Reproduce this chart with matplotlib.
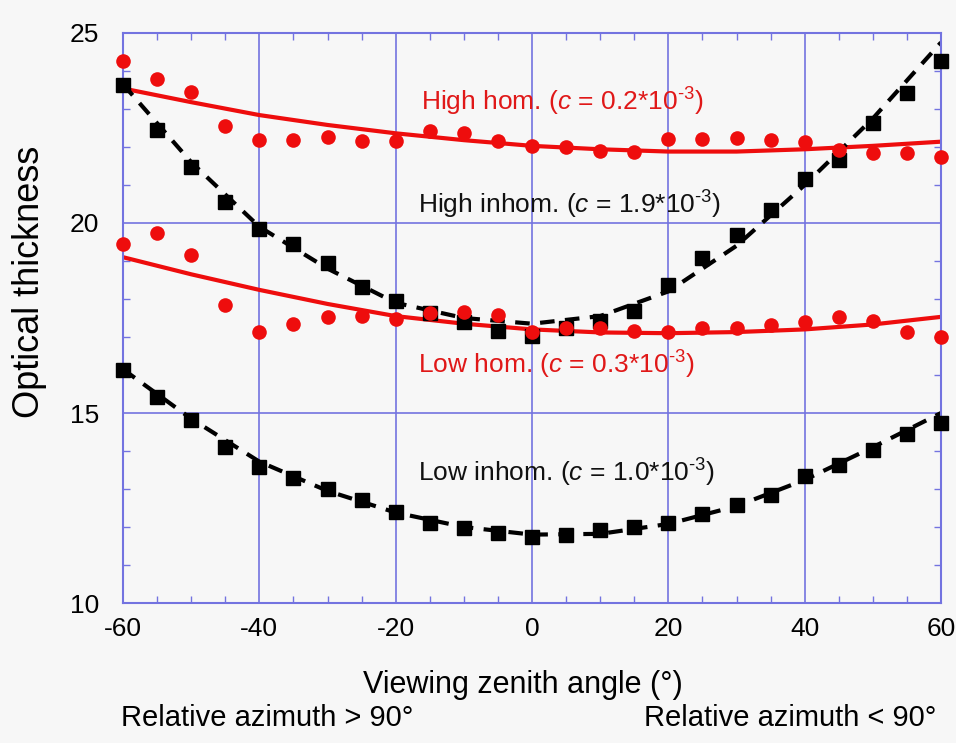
import numpy as np
import matplotlib
matplotlib.use("Agg")
import matplotlib.pyplot as plt
from matplotlib.ticker import MultipleLocator

plt.rcParams['font.family'] = ['Liberation Sans', 'DejaVu Sans']
plt.rcParams['mathtext.fontset'] = 'custom'
plt.rcParams['mathtext.rm'] = 'Liberation Sans'
plt.rcParams['mathtext.it'] = 'Liberation Sans:italic'
plt.rcParams['axes.unicode_minus'] = False

# angles des points (tous les 5 degres)
angles = np.arange(-60, 61, 5)

high_hom = [24.27, 23.79, 23.46, 22.56, 22.18, 22.18, 22.26, 22.15, 22.15, 22.43,
            22.36, 22.15, 22.03, 22.01, 21.89, 21.88, 22.22, 22.22, 22.24, 22.18,
            22.14, 21.92, 21.83, 21.83, 21.73]
high_inhom = [23.63, 22.45, 21.48, 20.56, 19.83, 19.45, 18.94, 18.32, 17.95, 17.62,
              17.40, 17.17, 17.02, 17.25, 17.42, 17.69, 18.37, 19.07, 19.68, 20.34,
              21.15, 21.66, 22.62, 23.41, 24.25]
low_hom = [19.45, 19.73, 19.16, 17.84, 17.12, 17.33, 17.53, 17.55, 17.47, 17.62,
           17.65, 17.58, 17.14, 17.23, 17.23, 17.17, 17.14, 17.25, 17.25, 17.32,
           17.40, 17.53, 17.43, 17.12, 16.99]
low_inhom = [16.13, 15.43, 14.82, 14.11, 13.59, 13.28, 12.99, 12.71, 12.40, 12.10,
             11.97, 11.83, 11.75, 11.79, 11.92, 12.01, 12.11, 12.34, 12.58, 12.84,
             13.34, 13.63, 14.03, 14.45, 14.73]

# courbes d'ajustement (lues tous les 10 degres)
angles_fit = np.arange(-60, 61, 10)
fit_high_hom = [23.54, 23.18, 22.84, 22.58, 22.36, 22.18, 22.03, 21.94, 21.88, 21.88,
                21.94, 22.03, 22.14]
fit_high_inhom = [23.65, 21.6, 19.9, 18.8, 17.9, 17.5, 17.35, 17.55, 18.2, 19.4,
                  21.0, 22.75, 24.75]
fit_low_hom = [19.10, 18.65, 18.24, 17.87, 17.55, 17.35, 17.2, 17.12, 17.10, 17.13,
               17.2, 17.33, 17.53]
fit_low_inhom = [16.15, 14.85, 13.72, 12.95, 12.38, 12.0, 11.8, 11.82, 12.08, 12.55,
                 13.24, 14.1, 15.0]

rouge = '#ee0d0d'
bleu = '#7373e0'
fond = '#f7f7f7'

fig = plt.figure(figsize=(9.56, 7.43), dpi=100, facecolor=fond)
ax = fig.add_axes([0.1287, 0.1884, 0.8556, 0.7672], facecolor=fond)

# lignes d'ajustement
ax.plot(angles_fit, fit_high_hom, color=rouge, lw=3, zorder=2)
ax.plot(angles_fit, fit_low_hom, color=rouge, lw=3, zorder=2)
ax.plot(angles_fit, fit_high_inhom, color='black', lw=3, ls=(0, (3.5, 2.5)), zorder=2)
ax.plot(angles_fit, fit_low_inhom, color='black', lw=3, ls=(0, (3.5, 2.5)), zorder=2)

# points
ax.plot(angles, high_inhom, 's', color='black', ms=9.5, zorder=3, clip_on=False)
ax.plot(angles, low_inhom, 's', color='black', ms=9.5, zorder=3, clip_on=False)
ax.plot(angles, high_hom, 'o', color=rouge, ms=10.5, mec='none', zorder=4, clip_on=False)
ax.plot(angles, low_hom, 'o', color=rouge, ms=10.5, mec='none', zorder=4, clip_on=False)

ax.set_xlim(-60, 60)
ax.set_ylim(10, 25)
ax.xaxis.set_major_locator(MultipleLocator(20))
ax.xaxis.set_minor_locator(MultipleLocator(5))
ax.yaxis.set_major_locator(MultipleLocator(5))
ax.yaxis.set_minor_locator(MultipleLocator(1))
ax.grid(True, which='major', color=bleu, lw=1.2, zorder=1)
for s in ax.spines.values():
    s.set_color(bleu)
    s.set_linewidth(1.5)
ax.tick_params(which='both', direction='in', top=True, right=True, color=bleu,
               labelsize=19)
ax.tick_params(axis='x', pad=10)
ax.tick_params(axis='y', pad=17)
ax.tick_params(which='minor', length=5, width=1)
ax.tick_params(which='major', length=0)

fig.text(0.031, 0.62, 'Optical thickness', fontsize=26, rotation=90, ha='center', va='center')
fig.text(0.547, 0.067, 'Viewing zenith angle (°)', fontsize=22, ha='center', va='baseline')
fig.text(0.127, 0.023, 'Relative azimuth > 90°', fontsize=21, ha='left', va='baseline')
fig.text(0.979, 0.023, 'Relative azimuth < 90°', fontsize=21, ha='right', va='baseline')

# etiquettes des series
ax.text(-16.3, 22.95, r'High hom. ($c$ = 0.2*10$^{\text{-3}}$)', color='#e01818', fontsize=19)
ax.text(-16.7, 20.26, r'High inhom. ($c$ = 1.9*10$^{\text{-3}}$)', color='#111111', fontsize=19)
ax.text(-16.7, 16.04, r'Low hom. ($c$ = 0.3*10$^{\text{-3}}$)', color='#e01818', fontsize=19)
ax.text(-16.7, 13.19, r'Low inhom. ($c$ = 1.0*10$^{\text{-3}}$)', color='#111111', fontsize=19)

fig.savefig('out.png', dpi=100, facecolor=fond)
